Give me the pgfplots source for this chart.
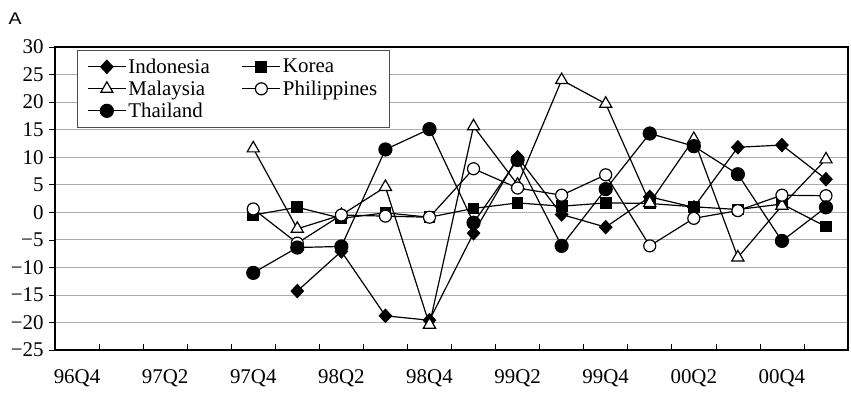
\documentclass[border=0pt]{standalone}
\usepackage{fontspec}
\setmainfont{Liberation Serif}
\newfontfamily\sansA{Liberation Sans}
\usepackage{pgfplots}
\pgfplotsset{compat=1.18}
\begin{document}
\begin{tikzpicture}
\useasboundingbox (0,0) rectangle (851bp,400bp);
\node[font=\sansA\fontsize{17}{20}\selectfont, xscale=1.15] at (15bp,381.5bp) {A};
\begin{axis}[
  at={(55bp,50bp)}, anchor=south west,
  width=793bp, height=303bp, scale only axis,
  xmin=-0.5, xmax=17.5, ymin=-25, ymax=30,
  xtick={-0.5,0.5,...,17.5},
  xticklabels={},
  extra x ticks={0,2,...,16},
  extra x tick labels={96Q4,97Q2,97Q4,98Q2,98Q4,99Q2,99Q4,00Q2,00Q4},
  extra x tick style={tick style={draw=none}, grid=none},
  ytick={-25,-20,...,30},
  yticklabels={−25,−20,−15,−10,−5,0,5,10,15,20,25,30},
  tick align=inside,
  xtick pos=bottom, ytick pos=left,
  major tick length=6bp,
  ytick style={xshift=-6bp},
  tick style={black, line width=0.6bp},
  ymajorgrids,
  grid style={gray!65, line width=0.7bp},
  axis line style={black, line width=1.4bp},
  tick label style={font=\fontsize{21}{23}\selectfont},
  xticklabel style={yshift=-16bp},
  yticklabel style={xshift=-8bp},
  legend columns=2,
  legend cell align=left,
  legend style={at={(0.0277,0.99)}, anchor=north west, draw=black!70, line width=0.6bp,
    font=\fontsize{21}{23}\selectfont, inner xsep=10bp, inner ysep=6.5bp, row sep=2bp,
    /tikz/every even column/.append style={column sep=30bp}},
  legend image code/.code={\draw[mark repeat=2,mark phase=2,#1] plot coordinates {(0bp,0bp) (19bp,0bp) (38bp,0bp)};},
  every axis plot/.append style={black, line width=1.2bp},
]
\addplot[mark=diamond*, mark size=6.5bp, mark options={xscale=1.25, fill=black}] coordinates {
 (5,-14.3) (6,-7.1) (7,-18.8) (8,-19.6) (9,-3.8) (10,10.0) (11,-0.4) (12,-2.7) (13,2.8) (14,0.9) (15,11.8) (16,12.2) (17,6.0)};
\addlegendentry{Indonesia}
\addplot[mark=square*, mark size=5.3bp, mark options={fill=black}] coordinates {
 (4,-0.5) (5,0.9) (6,-1.1) (7,-0.1) (8,-0.9) (9,0.7) (10,1.7) (11,1.1) (12,1.7) (13,1.6) (14,1.0) (15,0.5) (16,1.5) (17,-2.6)};
\addlegendentry{Korea}
\addplot[mark=triangle*, mark size=7bp, mark options={fill=white}] coordinates {
 (4,11.6) (5,-3.0) (6,-0.5) (7,4.6) (8,-20.4) (9,15.6) (10,5.0) (11,24.0) (12,19.7) (13,1.7) (14,13.3) (15,-8.2) (16,1.2) (17,9.6)};
\addlegendentry{Malaysia}
\addplot[mark=*, mark size=6bp, mark options={fill=white}] coordinates {
 (4,0.6) (5,-5.6) (6,-0.5) (7,-0.7) (8,-0.9) (9,7.9) (10,4.4) (11,3.1) (12,6.8) (13,-6.1) (14,-1.1) (15,0.3) (16,3.1) (17,3.0)};
\addlegendentry{Philippines}
\addplot[mark=*, mark size=6.5bp, mark options={fill=black}] coordinates {
 (4,-11.0) (5,-6.4) (6,-6.2) (7,11.4) (8,15.1) (9,-1.9) (10,9.5) (11,-6.1) (12,4.2) (13,14.3) (14,12.0) (15,6.9) (16,-5.2) (17,0.9)};
\addlegendentry{Thailand}
\end{axis}
\end{tikzpicture}
\end{document}
